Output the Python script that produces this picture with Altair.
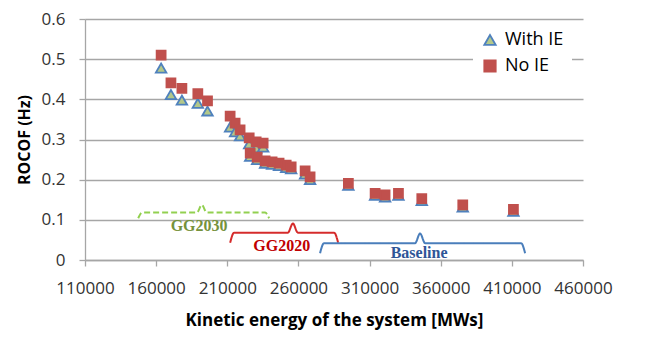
import altair as alt
import pandas as pd

# ---- data ----
kinetic_energy = [163500, 170400, 178100, 189300, 196100,
                  212000, 215500, 219000, 225400, 230300, 235200,
                  226100, 231000, 236600, 241500, 246400, 251400, 254900,
                  264700, 268200, 295100, 313900, 320900, 330300, 346700, 375500, 411100]
rocof_no_ie = [0.510, 0.441, 0.427, 0.414, 0.396,
               0.358, 0.341, 0.324, 0.304, 0.294, 0.291,
               0.266, 0.256, 0.247, 0.244, 0.241, 0.236, 0.232,
               0.222, 0.207, 0.191, 0.166, 0.162, 0.166, 0.153, 0.137, 0.126]
rocof_with_ie = [0.478, 0.412, 0.398, 0.390, 0.371,
                 0.331, 0.319, 0.309, 0.289, 0.279, 0.281,
                 0.258, 0.250, 0.241, 0.238, 0.235, 0.230, 0.227,
                 0.214, 0.200, 0.186, 0.161, 0.157, 0.161, 0.148, 0.132, 0.121]
series_names = ["With IE", "No IE"]

x_ticks = [110000, 160000, 210000, 260000, 310000, 360000, 410000, 460000]
y_ticks = [0, 0.1, 0.2, 0.3, 0.4, 0.5, 0.6]

# scenario braces: name, start, end, centre, line level, end level, peak level
brace_names = ["GG2030", "GG2020", "Baseline"]
brace_x0 = [147400, 212000, 275200]
brace_x1 = [239400, 287900, 419300]
brace_xc = [192100, 256100, 345500]
brace_yline = [0.118, 0.068, 0.042]
brace_yend = [0.104, 0.043, 0.017]
brace_ypeak = [0.137, 0.091, 0.066]
label_x = [190200, 248300, 344800]
label_y = [0.085, 0.035, 0.018]

# ---- styles ----
brace_colors = ["#92D050", "#D52B2B", "#4A7EBB"]
label_colors = ["#76923C", "#C00000", "#2E5597"]
brace_dash = [[6, 3], [1, 0], [1, 0]]

tri_fill, tri_stroke = "#B3C88A", "#4F81BD"
sq_fill = "#C0504D"

dom = series_names
fill_scale = alt.Scale(domain=dom, range=[tri_fill, sq_fill])
stroke_scale = alt.Scale(domain=dom, range=[tri_stroke, sq_fill])
shape_scale = alt.Scale(domain=dom, range=["triangle-up", "square"])
legend = alt.Legend(title=None, orient="none", legendX=388, legendY=4,
                    fillColor="white", padding=8, labelFontSize=18,
                    labelFont="Open Sans", labelColor="black", symbolSize=130,
                    symbolStrokeWidth=1.8, rowPadding=7, labelOffset=6)

x_enc = alt.X("ke:Q", scale=alt.Scale(domain=[110000, 460000], nice=False, zero=False),
              axis=alt.Axis(values=x_ticks, format="d", grid=False, labelOverlap=False,
                            labelFlush=False, labelFontSize=17,
                            title="Kinetic energy of the system [MWs]",
                            labelPadding=14, titleFontSize=17, titleX=249, titleY=65,
                            titleBaseline="alphabetic", titleAlign="center"))
y_enc = alt.Y("rocof:Q", scale=alt.Scale(domain=[0, 0.6], nice=False),
              axis=alt.Axis(values=y_ticks, format=".1~f", grid=True,
                            title="ROCOF (Hz)", labelPadding=14, titleFontSize=16,
                            titleX=-61, titleY=120.5, titleBaseline="middle",
                            titleAlign="center", titleAngle=270))

df_with = pd.DataFrame({"ke": kinetic_energy, "rocof": rocof_with_ie, "series": "With IE"})
df_no = pd.DataFrame({"ke": kinetic_energy, "rocof": rocof_no_ie, "series": "No IE"})

def point_layer(df, size):
    return alt.Chart(df).mark_point(filled=True, size=size, strokeWidth=1.8, opacity=1).encode(
        x=x_enc, y=y_enc,
        fill=alt.Fill("series:N", scale=fill_scale, legend=legend),
        stroke=alt.Stroke("series:N", scale=stroke_scale, legend=legend),
        shape=alt.Shape("series:N", scale=shape_scale, legend=legend),
    )

layers = [point_layer(df_with, 110), point_layer(df_no, 80)]

r_end, r_peak = 2800, 3500
for i, name in enumerate(brace_names):
    xs = [brace_x0[i], brace_x0[i] + r_end, brace_xc[i] - r_peak, brace_xc[i],
          brace_xc[i] + r_peak, brace_x1[i] - r_end, brace_x1[i]]
    ys = [brace_yend[i], brace_yline[i], brace_yline[i], brace_ypeak[i],
          brace_yline[i], brace_yline[i], brace_yend[i]]
    bdf = pd.DataFrame({"ke": xs, "rocof": ys})
    layers.append(alt.Chart(bdf).mark_line(interpolate="monotone", strokeWidth=2,
                                            color=brace_colors[i],
                                            strokeDash=brace_dash[i]).encode(
        x=alt.X("ke:Q"), y=alt.Y("rocof:Q")))
    tdf = pd.DataFrame({"ke": [label_x[i]], "rocof": [label_y[i]], "label": [name]})
    layers.append(alt.Chart(tdf).mark_text(font="Liberation Serif", fontWeight="bold",
                                            fontSize=16, color=label_colors[i],
                                            baseline="middle", align="center").encode(
        x=alt.X("ke:Q"), y=alt.Y("rocof:Q"), text="label:N"))

chart = alt.layer(*layers).properties(
    width=498, height=241,
    autosize=alt.AutoSizeParams(type="none"),
    padding={"left": 77, "top": 11, "right": 57, "bottom": 71},
).configure_view(stroke=None).configure_axis(
    labelFont="Open Sans", labelFontSize=17, labelColor="#333333",
    titleFont="Open Sans", titleFontWeight="bold", titleColor="black",
    domainColor="#A6A6A6", tickColor="#A6A6A6", gridColor="#A6A6A6",
    tickSize=6, domainWidth=1.3, tickWidth=1.3, gridWidth=1.3,
)

chart.save("out.html", embed_options={"renderer": "svg", "actions": False})
